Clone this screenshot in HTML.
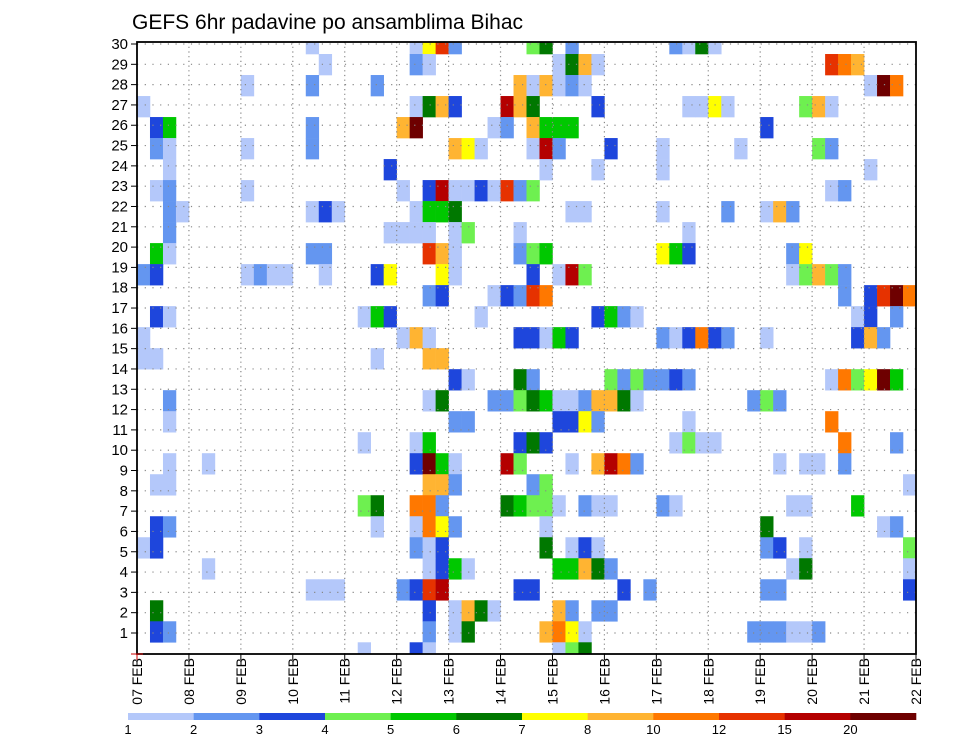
<!DOCTYPE html>
<html><head><meta charset="utf-8">
<style>
html,body{margin:0;padding:0;background:#fff;}
svg{display:block;font-family:"Liberation Sans",sans-serif;}
</style></head>
<body>
<svg id="chart" width="960" height="742" viewBox="0 0 960 742" xmlns="http://www.w3.org/2000/svg">
<text x="132" y="29" font-size="21" fill="#000">GEFS 6hr padavine po ansamblima Bihac</text>
<defs><clipPath id="plotclip"><rect x="137" y="42" width="779" height="612"/></clipPath></defs>
<g id="cells" clip-path="url(#plotclip)"></g>
<g id="grid"></g>
<g id="axes"></g>
<g id="legend"></g>
</svg>
<script>
// Colour levels (mm) and their colours
const levelLabels = ["1","2","3","4","5","6","7","8","10","12","15","20"];
const levelColors = ["#b4c8fa","#6496f0","#1e46dc","#6ef050","#00c800","#007800","#ffff00","#ffb432","#ff7800","#e63200","#b40000","#6e0000"];
// x axis: 6-hourly steps, day labels
const dayLabels = ["07 FEB","08 FEB","09 FEB","10 FEB","11 FEB","12 FEB","13 FEB","14 FEB","15 FEB","16 FEB","17 FEB","18 FEB","19 FEB","20 FEB","21 FEB","22 FEB"];
const yTickLabels = [1,2,3,4,5,6,7,8,9,10,11,12,13,14,15,16,17,18,19,20,21,22,23,24,25,26,27,28,29,30];
// Members 30 (top) .. 1 (bottom); each entry = [6h step index, level index]
const members = [30,29,28,27,26,25,24,23,22,21,20,19,18,17,16,15,14,13,12,11,10,9,8,7,6,5,4,3,2,1];
const memberCells = [
 [[13,0],[21,0],[22,6],[23,9],[24,1],[30,3],[31,5],[33,1],[41,1],[42,0],[43,5],[44,0]],
 [[14,0],[21,1],[22,0],[32,0],[33,5],[34,7],[35,0],[53,9],[54,8],[55,7]],
 [[8,0],[13,1],[18,1],[29,7],[30,0],[31,7],[32,0],[33,1],[34,0],[56,0],[57,11],[58,8]],
 [[0,0],[21,0],[22,5],[23,7],[24,2],[28,10],[29,7],[30,5],[35,2],[42,0],[43,0],[44,6],[45,0],[51,3],[52,7],[53,0]],
 [[1,2],[2,4],[13,1],[20,7],[21,11],[27,0],[28,1],[30,7],[31,4],[32,4],[33,4],[48,2]],
 [[1,1],[2,0],[8,0],[13,1],[24,7],[25,6],[26,0],[30,0],[31,10],[32,1],[36,2],[40,0],[46,0],[52,3],[53,1]],
 [[2,0],[19,2],[31,0],[35,0],[40,0],[56,0]],
 [[1,0],[2,1],[8,0],[20,0],[22,2],[23,10],[24,0],[25,0],[26,2],[27,0],[28,9],[29,1],[30,3],[53,0],[54,1]],
 [[2,1],[3,0],[13,0],[14,2],[15,0],[21,0],[22,4],[23,4],[24,5],[33,0],[34,0],[40,0],[45,1],[48,0],[49,7],[50,1]],
 [[2,1],[19,0],[20,0],[21,0],[22,0],[24,0],[25,3],[29,0],[42,0]],
 [[1,4],[2,0],[13,1],[14,1],[22,9],[23,7],[24,0],[29,1],[30,3],[31,4],[40,6],[41,4],[42,2],[50,1],[51,6]],
 [[0,1],[1,2],[8,0],[9,1],[10,0],[11,0],[14,0],[18,2],[19,6],[23,6],[24,0],[30,2],[32,0],[33,10],[34,3],[50,0],[51,3],[52,7],[53,3],[54,1]],
 [[22,1],[23,2],[27,0],[28,2],[29,1],[30,9],[31,8],[54,1],[56,2],[57,9],[58,11],[59,8]],
 [[1,2],[2,0],[17,0],[18,4],[19,2],[26,0],[35,2],[36,4],[37,1],[38,0],[55,0],[56,2],[58,1]],
 [[0,0],[20,0],[21,7],[22,0],[29,2],[30,2],[31,0],[32,4],[33,2],[40,1],[41,0],[42,2],[43,8],[44,2],[45,1],[48,0],[55,2],[56,7],[57,1]],
 [[0,0],[1,0],[18,0],[22,7],[23,7]],
 [[24,2],[25,0],[29,5],[30,1],[36,3],[37,1],[38,3],[39,1],[40,1],[41,2],[42,1],[53,0],[54,8],[55,3],[56,6],[57,11],[58,4]],
 [[2,1],[22,0],[23,5],[27,1],[28,1],[29,3],[30,5],[31,4],[32,0],[33,0],[34,1],[35,7],[36,7],[37,5],[38,0],[47,1],[48,3],[49,1]],
 [[2,0],[24,1],[25,1],[32,2],[33,2],[34,6],[35,1],[42,0],[53,8]],
 [[17,0],[21,0],[22,4],[29,2],[30,5],[31,2],[41,0],[42,3],[43,0],[44,0],[54,8],[58,1]],
 [[2,0],[5,0],[21,2],[22,11],[23,4],[24,0],[28,10],[29,3],[33,0],[35,7],[36,10],[37,8],[38,1],[49,0],[51,0],[52,0],[54,1]],
 [[1,0],[2,0],[22,7],[23,7],[24,1],[30,1],[31,3],[59,0]],
 [[17,3],[18,5],[21,8],[22,8],[23,1],[28,5],[29,4],[30,3],[31,3],[32,0],[34,1],[35,0],[36,0],[40,1],[41,0],[50,0],[51,0],[55,4]],
 [[1,2],[2,1],[18,0],[21,0],[22,8],[23,6],[24,1],[31,0],[48,5],[57,0],[58,1]],
 [[0,0],[1,2],[21,1],[22,0],[23,2],[31,5],[33,0],[34,2],[35,0],[48,1],[49,2],[51,0],[59,3]],
 [[5,0],[22,0],[23,2],[24,4],[25,0],[32,4],[33,4],[34,7],[35,5],[36,1],[50,0],[51,5],[59,0]],
 [[13,0],[14,0],[15,0],[20,1],[21,2],[22,9],[23,10],[29,2],[30,2],[37,2],[39,1],[48,1],[49,1],[59,2]],
 [[1,5],[22,2],[24,0],[25,7],[26,5],[27,0],[32,7],[33,1],[35,1],[36,1]],
 [[1,2],[2,1],[22,1],[24,0],[25,5],[31,7],[32,8],[33,6],[34,0],[47,1],[48,1],[49,1],[50,0],[51,0],[52,1]],
 [[17,0],[21,2],[22,0],[32,0],[33,3],[34,5]]
];

const NS = "http://www.w3.org/2000/svg";
const X0 = 137, X1 = 916, Y0 = 42, Y1 = 654;
const STEPS = 60;
const stepW = (X1 - X0) / STEPS;
function xStep(k){ return X0 + k * stepW; }
function xDay(d){ return X0 + d * 4 * stepW; }
// y tick positions (axis labels)
function yTick(v){ return 44 + (30 - v) * 20.31; }
// cell rows are drawn at a slightly larger pitch than the ticks
const rowH = 21.01;
function yMemberTop(m){ return 33 + (30 - m) * rowH; }
function mk(tag, attrs, parent){
  const e = document.createElementNS(NS, tag);
  for (const a in attrs) e.setAttribute(a, attrs[a]);
  parent.appendChild(e);
  return e;
}

const cellsG = document.getElementById('cells');
members.forEach(function(m, i){
  memberCells[i].forEach(function(c){
    const r = mk('rect', {x: xStep(c[0]), y: yMemberTop(m), width: stepW + 0.3, height: rowH + 0.3, fill: levelColors[c[1]]}, cellsG);
    
    
  });
});

const gridG = document.getElementById('grid');
yTickLabels.forEach(function(v){
  const l = mk('line', {x1: X0, x2: X1, y1: yTick(v), y2: yTick(v), stroke: '#888', 'stroke-width': 1.2, 'stroke-dasharray': '1.2 6.5'}, gridG);
  
  
});
dayLabels.forEach(function(d, i){
  if (i === 0 || i === dayLabels.length - 1) return;
  const l = mk('line', {x1: xDay(i), x2: xDay(i), y1: Y0, y2: Y1, stroke: '#888', 'stroke-width': 1.2, 'stroke-dasharray': '1.2 3.5'}, gridG);
  
  
});

const axG = document.getElementById('axes');
const frame = mk('rect', {x: X0, y: Y0, width: X1 - X0, height: Y1 - Y0, fill: 'none', stroke: '#000', 'stroke-width': 1.8}, axG);


yTickLabels.forEach(function(v){
  const t = mk('line', {x1: X0 - 6, x2: X0, y1: yTick(v), y2: yTick(v), stroke: '#000', 'stroke-width': 1}, axG);
  
  
  const tx = mk('text', {x: X0 - 9, y: yTick(v) + 5, 'font-size': 15, 'text-anchor': 'end', fill: '#000'}, axG);
  tx.textContent = v;
  
  
});
dayLabels.forEach(function(d, i){
  const x = xDay(i);
  const t = mk('line', {x1: x, x2: x, y1: Y1, y2: Y1 + 6, stroke: i === 0 ? '#c00' : '#000', 'stroke-width': 1}, axG);
  
  
  const tx = mk('text', {x: 0, y: 0, 'font-size': 14, 'text-anchor': 'end', fill: '#000', transform: 'translate(' + (x + 5) + ',' + (Y1 + 4) + ') rotate(-90)'}, axG);
  tx.textContent = d;
  
  
});
const redMark = mk('line', {x1: X0 - 6, x2: X0 + 6, y1: Y1, y2: Y1, stroke: '#c00', 'stroke-width': 1}, axG);



const lgG = document.getElementById('legend');
const LX0 = 128, LX1 = 916, segW = (LX1 - LX0) / levelColors.length;
levelColors.forEach(function(c, i){
  const r = mk('rect', {x: LX0 + i * segW, y: 713, width: segW + 0.3, height: 7, fill: c}, lgG);
  
  
  const t = mk('text', {x: LX0 + i * segW, y: 734, 'font-size': 13, 'text-anchor': 'middle', fill: '#000'}, lgG);
  t.textContent = levelLabels[i];
  
  
});
</script>
</body></html>
